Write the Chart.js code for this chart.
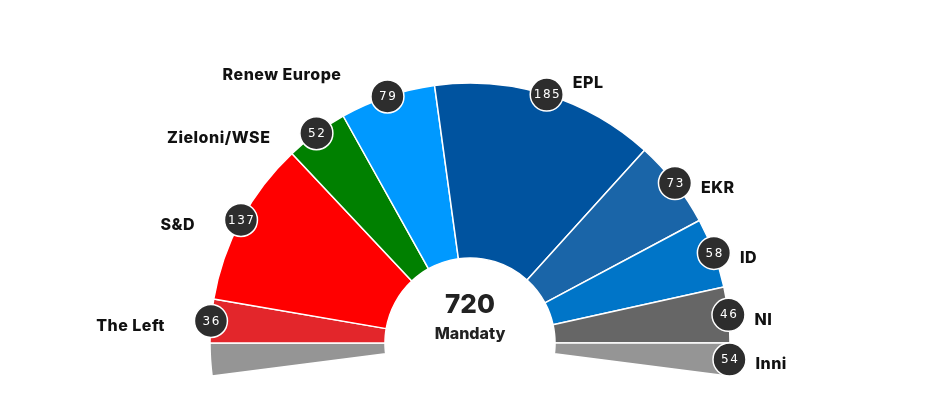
<!DOCTYPE html>
<html>
<head>
<meta charset="utf-8">
<script src="https://cdn.jsdelivr.net/npm/chart.js@4.4.1/dist/chart.umd.min.js"></script>
<style>
  html, body { margin: 0; padding: 0; background: #ffffff; }
  #wrap { width: 940px; height: 397px; position: relative; }
</style>
</head>
<body>
<div id="wrap"><canvas id="c" width="940" height="397"></canvas></div>
<script>
// ---- data ----
const parties = ['The Left', 'S&D', 'Zieloni/WSE', 'Renew Europe', 'EPL', 'EKR', 'ID', 'NI', 'Inni'];
const seats = [36, 137, 52, 79, 185, 73, 58, 46, 54];
const centerValue = '720';
const centerLabel = 'Mandaty';

// ---- style ----
const partyColors = ['#e3262b', '#ff0000', '#008000', '#0099ff', '#00539f', '#1a65a8', '#0075c8', '#666666', '#959595'];
const labelNudgeY = { 'EPL': -16, 'Renew Europe': -26 };

// The last group ("Inni") is split into two halves, one at each lower end of the arc.
const total = seats.reduce((a, b) => a + b, 0);
const lastIdx = seats.length - 1;
const half = seats[lastIdx] / 2;
const mainTotal = total - seats[lastIdx];
const circumferenceDeg = 180 * total / mainTotal;
const rotationDeg = -90 - 180 * half / mainTotal;

const chartLabels = [parties[lastIdx]].concat(parties);
const chartData = [half].concat(seats.slice(0, lastIdx), [half]);
const chartColors = [partyColors[lastIdx]].concat(partyColors);
const badgeValues = [null].concat(seats);

const labelPlugin = {
  id: 'parliamentLabels',
  afterDatasetsDraw(chart) {
    const ctx = chart.ctx;
    const meta = chart.getDatasetMeta(0);
    ctx.save();
    meta.data.forEach((arc, i) => {
      if (badgeValues[i] === null) return;
      const p = arc.getProps(['x', 'y', 'startAngle', 'endAngle', 'outerRadius'], true);
      const mid = (p.startAngle + p.endAngle) / 2;
      const bx = p.x + Math.cos(mid) * p.outerRadius;
      const by = p.y + Math.sin(mid) * p.outerRadius;
      // badge
      ctx.beginPath();
      ctx.arc(bx, by, 16.5, 0, Math.PI * 2);
      ctx.fillStyle = '#2d2d2d';
      ctx.fill();
      ctx.lineWidth = 1.5;
      ctx.strokeStyle = '#ffffff';
      ctx.stroke();
      // number
      const ls = 1.5;
      ctx.font = '12px "DejaVu Sans"';
      ctx.letterSpacing = ls + 'px';
      ctx.fillStyle = '#ffffff';
      ctx.textAlign = 'center';
      ctx.textBaseline = 'middle';
      ctx.fillText(String(badgeValues[i]), bx + ls / 2, by + 0.5);
      // party name
      const name = chartLabels[i];
      const left = Math.cos(mid) < 0;
      const nls = 0.5;
      ctx.font = '800 16px Inter';
      ctx.letterSpacing = nls + 'px';
      ctx.fillStyle = '#111111';
      ctx.textBaseline = 'middle';
      const ly = by + 5 + (labelNudgeY[name] || 0);
      if (left) {
        ctx.textAlign = 'right';
        ctx.fillText(name, bx - 46.5 + nls, ly);
      } else {
        ctx.textAlign = 'left';
        ctx.fillText(name, bx + 26, ly);
      }
      ctx.letterSpacing = '0px';
    });
    // centre text
    const a0 = meta.data[0];
    const cx = a0.x;
    ctx.fillStyle = '#222222';
    ctx.textAlign = 'center';
    ctx.textBaseline = 'alphabetic';
    ctx.font = '800 26px Inter';
    ctx.fillText(centerValue, cx, 313);
    ctx.font = '800 16px Inter';
    ctx.fillText(centerLabel, cx, 339);
    ctx.restore();
  }
};

new Chart(document.getElementById('c'), {
  type: 'doughnut',
  data: {
    labels: chartLabels,
    datasets: [{
      data: chartData,
      backgroundColor: chartColors,
      borderColor: '#ffffff',
      borderWidth: 1.5,
      hoverOffset: 0
    }]
  },
  options: {
    responsive: false,
    animation: false,
    rotation: rotationDeg,
    circumference: circumferenceDeg,
    cutout: '32.7%',
    radius: 260,
    layout: { padding: { left: 210, right: 210, top: 83, bottom: 21 } },
    plugins: {
      legend: { display: false },
      tooltip: { enabled: false }
    }
  },
  plugins: [labelPlugin]
});
</script>
</body>
</html>
